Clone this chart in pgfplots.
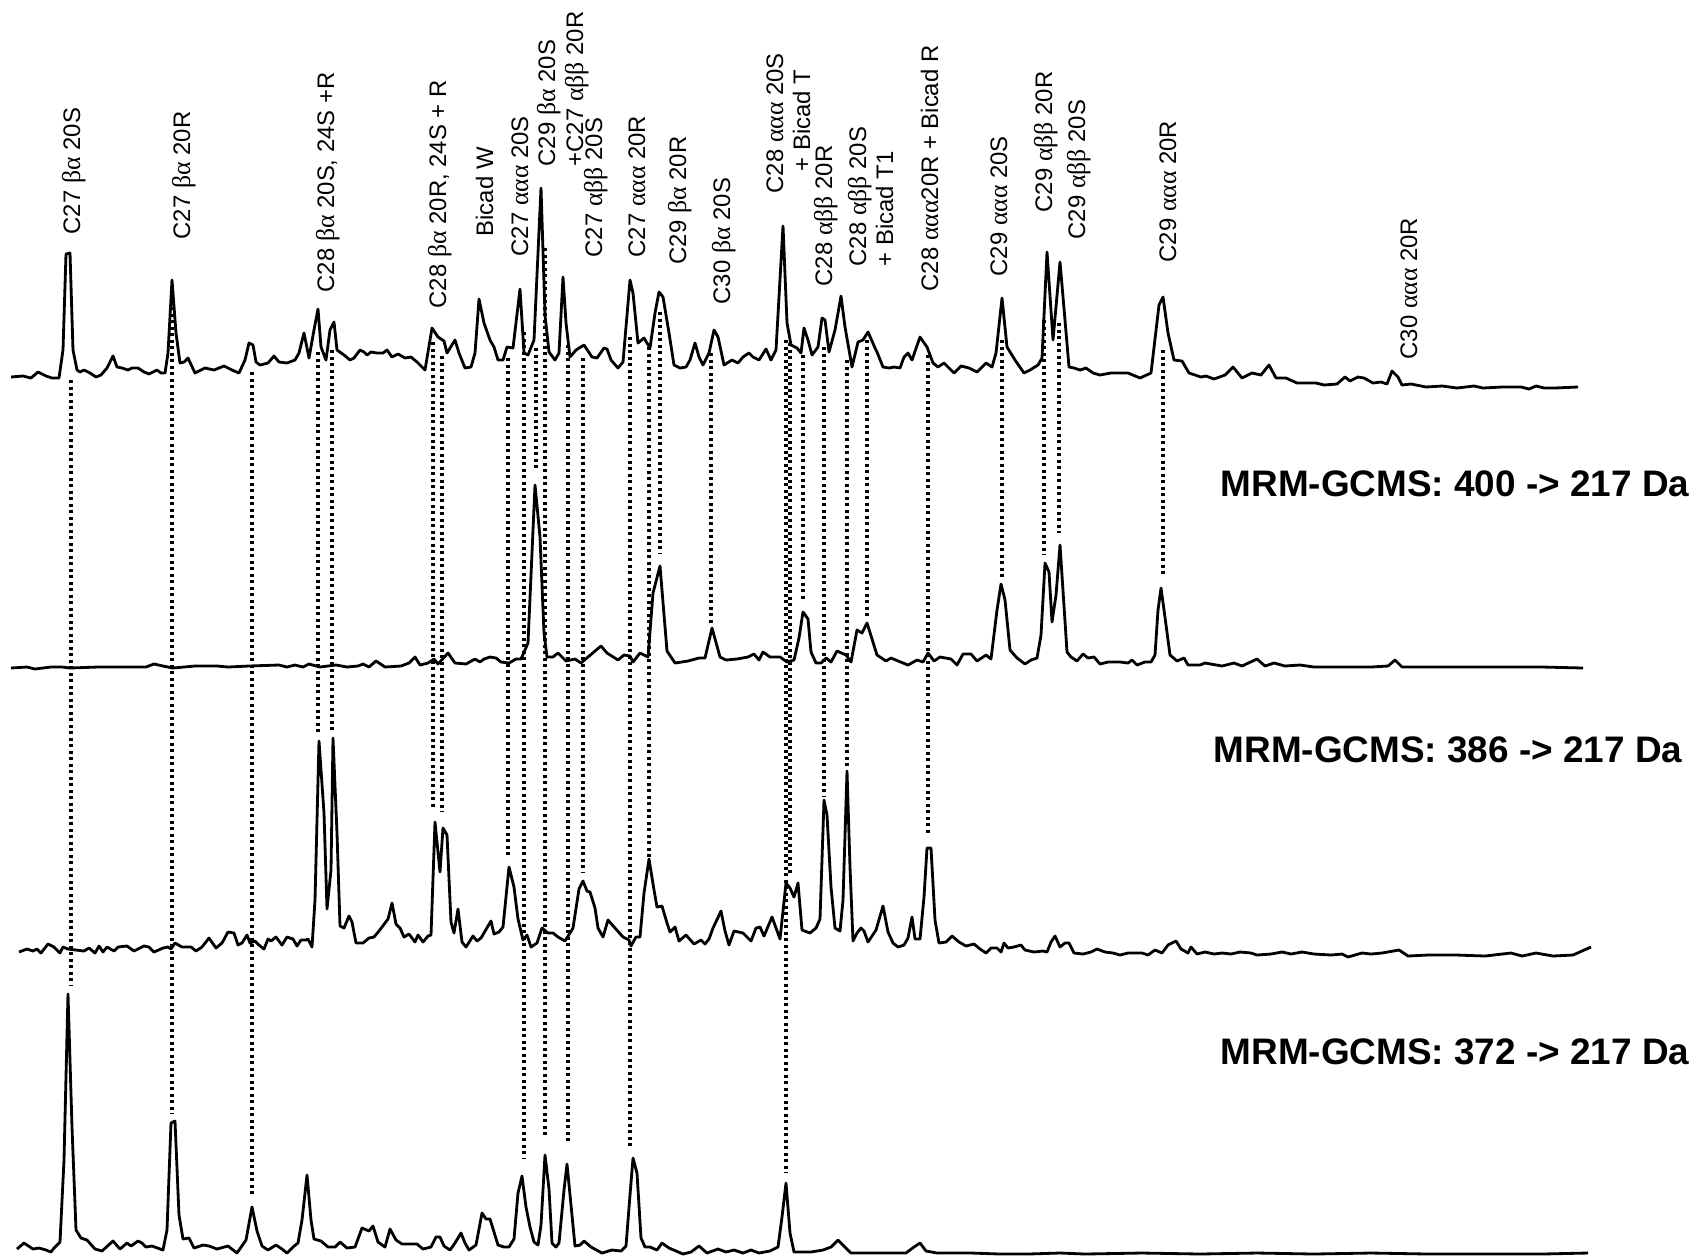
\documentclass[border=0pt]{standalone}
\usepackage{fontspec}
\setmainfont{Liberation Sans}
\newfontfamily\grk[Scale=1.08]{Liberation Serif}
\usepackage{pgfplots}
\pgfplotsset{compat=1.18}

\tikzset{
  trace/.style={black, line width=0.8pt, line join=round, mark=none},
  guide/.style={black, line width=0.9pt, dash pattern=on 0.85pt off 1.0pt, mark=none},
  lbl/.style={rotate=90, anchor=base west, inner sep=0pt, font=\fontsize{6.8}{7}\selectfont},
  mrm/.style={anchor=east, inner sep=0pt, font=\fontsize{10.5}{12}\selectfont\bfseries},
}

\begin{document}
\begin{tikzpicture}
\begin{axis}[
  at={(0,0)}, anchor=south west,
  width=16.95cm, height=12.55cm, scale only axis,
  xmin=0, xmax=1695, ymin=0, ymax=1255, y dir=reverse,
  hide axis, clip=false,
]
% peak correlation guides
\addplot[guide] coordinates {(71,380) (71,985)};
\addplot[guide] coordinates {(172,307) (172,1114)};
\addplot[guide] coordinates {(252,372) (252,1195)};
\addplot[guide] coordinates {(318,352) (318,733)};
\addplot[guide] coordinates {(332,350) (332,732)};
\addplot[guide] coordinates {(433,342) (433,810)};
\addplot[guide] coordinates {(442,356) (442,812)};
\addplot[guide] coordinates {(508,358) (508,856)};
\addplot[guide] coordinates {(524,332) (524,1158)};
\addplot[guide] coordinates {(536,348) (536,468)};
\addplot[guide] coordinates {(545,248) (545,1135)};
\addplot[guide] coordinates {(568,345) (568,1143)};
\addplot[guide] coordinates {(583,358) (583,872)};
\addplot[guide] coordinates {(630,337) (630,1147)};
\addplot[guide] coordinates {(649,347) (649,858)};
\addplot[guide] coordinates {(660,312) (660,553)};
\addplot[guide] coordinates {(711,353) (711,625)};
\addplot[guide] coordinates {(786,340) (786,1173)};
\addplot[guide] coordinates {(790,343) (790,875)};
\addplot[guide] coordinates {(803,355) (803,600)};
\addplot[guide] coordinates {(824,347) (824,797)};
\addplot[guide] coordinates {(847,360) (847,768)};
\addplot[guide] coordinates {(867,340) (867,618)};
\addplot[guide] coordinates {(928,355) (928,835)};
\addplot[guide] coordinates {(1002,340) (1002,578)};
\addplot[guide] coordinates {(1044,320) (1044,555)};
\addplot[guide] coordinates {(1059,323) (1059,533)};
\addplot[guide] coordinates {(1163,350) (1163,577)};

% summed trace
\addplot[trace] coordinates {
(11,377) (23,376) (31,378) (38,372) (46,376) (52,378) (59,378) (63,350) (66,254) (70,253)
(73,350) (77,370) (80,372) (84,370) (90,373) (96,377) (101,375) (107,368) (113,356) (117,367)
(122,368) (128,370) (132,368) (138,368) (144,372) (149,374) (157,370) (161,373) (165,373) (168,353)
(172,280) (176,333) (180,363) (184,362) (188,358) (195,373) (205,368) (214,370) (224,366) (232,370)
(239,373) (245,360) (249,343) (253,345) (256,362) (260,365) (268,363) (274,356) (279,362) (287,363)
(295,360) (299,353) (304,333) (309,358) (314,330) (318,309) (321,347) (326,360) (330,330) (334,322)
(337,350) (344,355) (350,360) (354,358) (360,350) (364,352) (367,355) (371,352) (377,353) (383,353)
(387,350) (392,357) (398,354) (405,358) (411,357) (417,362) (425,370) (432,328) (438,337) (444,341)
(447,353) (455,340) (459,353) (465,368) (471,367) (475,353) (479,299) (484,323) (490,340) (494,347)
(498,360) (503,360) (507,347) (513,348) (520,289) (524,353) (528,355) (534,340) (541,188) (545,315)
(549,352) (555,360) (559,353) (563,277) (566,323) (570,357) (576,350) (584,345) (592,357) (597,358)
(604,348) (607,349) (611,360) (618,368) (623,362) (630,280) (633,293) (638,343) (644,338) (650,348)
(655,313) (659,292) (663,297) (669,333) (674,365) (680,368) (686,367) (690,360) (695,343) (699,357)
(703,365) (709,353) (714,330) (718,337) (724,365) (732,360) (738,363) (743,357) (749,353) (753,357)
(759,360) (766,349) (771,360) (776,350) (783,226) (787,323) (791,345) (797,348) (801,353) (804,328)
(808,340) (812,355) (818,347) (822,318) (825,320) (829,352) (835,330) (841,296) (845,327) (852,367)
(858,342) (863,340) (868,332) (875,348) (877,352) (883,367) (889,368) (894,367) (900,368) (904,357)
(908,353) (912,360) (920,337) (927,347) (933,363) (938,367) (944,363) (954,373) (961,366) (969,368)
(977,372) (986,363) (992,367) (996,353) (1002,298) (1007,347) (1015,360) (1024,373) (1030,370) (1038,365)
(1042,358) (1047,252) (1053,340) (1060,262) (1069,367) (1074,368) (1080,370) (1086,368) (1093,373) (1100,375)
(1111,373) (1128,373) (1140,378) (1151,373) (1159,305) (1163,297) (1168,333) (1174,360) (1182,361) (1189,373)
(1201,377) (1206,376) (1214,379) (1225,375) (1233,367) (1242,378) (1252,373) (1261,375) (1269,365) (1276,378)
(1286,378) (1297,383) (1316,383) (1324,385) (1337,384) (1345,377) (1350,381) (1358,377) (1364,378) (1373,383)
(1381,382) (1387,384) (1392,371) (1398,377) (1402,385) (1411,384) (1426,387) (1442,386) (1457,388) (1474,386)
(1483,388) (1502,387) (1510,387) (1521,387) (1529,389) (1536,386) (1544,388) (1555,388) (1578,387)
};

% MRM 400 -> 217
\addplot[trace] coordinates {
(11,668) (27,667) (35,669) (51,667) (62,667) (70,668) (98,667) (125,667) (146,667) (154,664)
(163,666) (173,668) (195,666) (217,666) (228,667) (249,666) (279,665) (287,667) (295,665) (303,667)
(309,664) (320,667) (336,665) (347,667) (358,666) (363,664) (369,667) (376,661) (385,667) (401,666)
(409,663) (415,657) (420,665) (428,663) (434,659) (438,664) (448,653) (455,663) (466,664) (475,659)
(480,662) (484,659) (490,657) (496,658) (501,662) (509,663) (516,659) (521,659) (528,643) (535,485)
(540,537) (544,633) (547,657) (553,657) (558,653) (566,661) (575,659) (581,663) (588,657) (601,646)
(607,653) (618,660) (624,655) (630,656) (633,662) (640,653) (648,657) (653,593) (660,566) (667,651)
(675,663) (688,661) (699,658) (705,658) (712,628) (720,657) (726,660) (737,659) (748,657) (754,654)
(759,660) (763,652) (770,657) (780,657) (787,662) (794,660) (799,638) (803,612) (808,619) (811,652)
(816,663) (821,663) (826,658) (831,662) (837,651) (846,655) (851,662) (857,630) (862,633) (867,623)
(877,655) (886,661) (891,658) (903,663) (908,665) (917,660) (923,662) (928,653) (934,661) (940,657)
(951,659) (957,665) (963,654) (971,654) (977,661) (986,655) (991,659) (997,610) (1001,584) (1005,600)
(1010,650) (1017,658) (1025,664) (1031,660) (1037,658) (1041,635) (1045,563) (1049,572) (1052,622) (1056,595)
(1060,545) (1067,652) (1071,657) (1077,661) (1083,654) (1088,658) (1094,657) (1100,664) (1108,662) (1120,662)
(1128,663) (1132,660) (1137,665) (1145,662) (1151,662) (1155,655) (1158,610) (1161,588) (1164,610) (1170,655)
(1177,661) (1184,658) (1188,665) (1200,665) (1205,663) (1222,666) (1234,663) (1242,666) (1257,659) (1265,666)
(1274,663) (1285,666) (1300,665) (1314,667) (1342,667) (1371,667) (1388,666) (1395,660) (1402,667) (1428,667)
(1456,667) (1485,667) (1514,667) (1542,667) (1583,668)
};

% MRM 386 -> 217
\addplot[trace] coordinates {
(19,952) (27,949) (33,951) (37,949) (41,953) (48,944) (54,947) (60,953) (63,947) (68,949)
(76,950) (84,951) (89,948) (95,953) (99,946) (103,952) (107,947) (114,951) (118,947) (127,946)
(134,951) (144,946) (149,947) (154,952) (163,948) (168,947) (171,949) (175,943) (182,947) (191,947)
(196,951) (202,947) (209,938) (216,948) (222,943) (228,932) (234,933) (238,945) (242,943) (247,935)
(250,943) (255,941) (259,945) (264,949) (268,939) (271,941) (276,937) (282,945) (287,937) (293,939)
(297,946) (301,940) (306,940) (308,939) (312,947) (315,900) (319,741) (324,813) (327,909) (331,870)
(333,738) (337,833) (340,926) (344,928) (349,916) (352,922) (356,943) (363,943) (369,938) (374,937)
(379,931) (388,919) (392,903) (396,924) (400,928) (404,937) (409,934) (415,942) (418,935) (423,942)
(428,936) (431,935) (435,822) (440,872) (443,828) (447,835) (451,922) (454,933) (458,909) (462,942)
(466,947) (473,936) (477,941) (481,938) (491,921) (494,934) (499,932) (503,927) (509,867) (514,887)
(518,919) (523,940) (527,935) (531,947) (537,943) (542,928) (548,933) (553,933) (558,937) (565,941)
(573,928) (579,889) (583,881) (587,891) (590,892) (595,908) (598,928) (603,937) (608,920) (615,928)
(623,937) (629,940) (631,946) (636,937) (640,937) (644,893) (649,859) (654,890) (657,907) (662,906)
(667,923) (670,932) (675,927) (679,941) (686,935) (694,944) (701,940) (705,944) (709,939) (713,928)
(721,911) (725,931) (729,945) (734,931) (743,933) (751,941) (756,928) (760,927) (764,936) (772,917)
(780,939) (786,883) (790,888) (794,897) (798,883) (802,930) (810,933) (816,928) (820,919) (824,800)
(827,815) (831,887) (835,928) (840,931) (843,900) (847,771) (850,867) (853,941) (857,933) (861,928)
(864,931) (868,942) (876,930) (883,906) (888,932) (893,943) (898,947) (904,945) (908,938) (912,917)
(915,939) (920,939) (924,897) (927,848) (931,848) (935,920) (939,943) (946,942) (952,936) (959,942)
(966,946) (974,944) (980,949) (986,953) (991,948) (997,948) (1001,952) (1004,943) (1008,948) (1014,947)
(1021,945) (1025,950) (1034,952) (1043,951) (1047,952) (1051,942) (1055,936) (1060,947) (1065,943) (1069,943)
(1074,953) (1083,954) (1091,952) (1097,949) (1105,952) (1113,953) (1120,955) (1128,953) (1137,953) (1142,953)
(1148,955) (1155,950) (1162,953) (1168,945) (1176,941) (1181,949) (1188,953) (1191,947) (1197,954) (1205,952)
(1214,954) (1222,953) (1231,954) (1240,952) (1251,953) (1257,955) (1271,954) (1282,952) (1291,954) (1302,952)
(1314,954) (1331,955) (1342,954) (1348,957) (1362,953) (1371,954) (1382,953) (1399,950) (1408,956) (1428,955)
(1456,955) (1485,956) (1511,953) (1522,956) (1536,953) (1553,956) (1573,955) (1582,951) (1591,947)
};

% MRM 372 -> 217
\addplot[trace] coordinates {
(17,1249) (24,1243) (33,1249) (39,1248) (46,1250) (51,1252) (54,1248) (60,1242) (64,1160) (68,994)
(72,1127) (76,1230) (81,1238) (87,1240) (95,1249) (102,1251) (113,1241) (120,1249) (127,1243) (131,1246)
(138,1241) (142,1243) (146,1247) (152,1246) (163,1250) (167,1230) (171,1123) (175,1121) (179,1215) (183,1239)
(189,1238) (194,1248) (203,1245) (209,1246) (217,1249) (228,1246) (237,1253) (246,1240) (252,1207) (257,1231)
(262,1246) (268,1250) (276,1245) (282,1249) (287,1253) (293,1247) (298,1243) (302,1220) (307,1175) (311,1220)
(314,1239) (321,1241) (328,1247) (335,1247) (340,1242) (347,1248) (355,1247) (362,1228) (369,1231) (373,1226)
(378,1242) (385,1247) (390,1229) (396,1240) (402,1244) (409,1244) (417,1244) (423,1249) (431,1247) (436,1237)
(440,1237) (444,1246) (450,1250) (455,1243) (461,1233) (465,1243) (469,1250) (476,1245) (482,1213) (486,1219)
(490,1219) (498,1245) (504,1247) (509,1247) (514,1239) (518,1193) (522,1176) (526,1207) (530,1227) (534,1242)
(538,1245) (541,1225) (545,1155) (549,1189) (552,1243) (556,1247) (559,1243) (564,1190) (567,1164) (571,1205)
(575,1246) (580,1245) (584,1241) (591,1247) (602,1253) (612,1250) (621,1251) (626,1246) (630,1195) (633,1158)
(637,1173) (641,1238) (645,1247) (650,1247) (657,1250) (662,1243) (669,1248) (683,1254) (691,1252) (699,1246)
(707,1253) (718,1249) (726,1252) (734,1250) (743,1253) (751,1250) (759,1253) (770,1251) (778,1247) (782,1217)
(786,1183) (790,1233) (794,1252) (802,1252) (811,1252) (823,1250) (831,1247) (838,1240) (845,1247) (851,1253)
(868,1253) (886,1253) (906,1253) (914,1247) (920,1243) (926,1251) (937,1253) (971,1253) (1000,1254) (1028,1254)
(1060,1253) (1085,1254) (1142,1253) (1200,1254) (1257,1253) (1314,1254) (1371,1253) (1428,1254) (1485,1254) (1542,1254)
(1588,1253)
};

% compound labels
\node[lbl] at (axis cs:80,235) {C27 {\grk βα} 20S};
\node[lbl] at (axis cs:190,240) {C27 {\grk βα} 20R};
\node[lbl] at (axis cs:334,293) {C28 {\grk βα} 20S, 24S +R};
\node[lbl] at (axis cs:446,309) {C28 {\grk βα} 20R, 24S + R};
\node[lbl] at (axis cs:493,237) {Bicad W};
\node[lbl] at (axis cs:528,257) {C27 {\grk ααα} 20S};
\node[lbl] at (axis cs:555,167) {C29 {\grk βα} 20S};
\node[lbl] at (axis cs:583,167) {+C27 {\grk αββ} 20R};
\node[lbl] at (axis cs:602,258) {C27 {\grk αββ} 20S};
\node[lbl] at (axis cs:645,258) {C27 {\grk ααα} 20R};
\node[lbl] at (axis cs:686,265) {C29 {\grk βα} 20R};
\node[lbl] at (axis cs:730,305) {C30 {\grk βα} 20S};
\node[lbl] at (axis cs:783,194) {C28 {\grk ααα} 20S};
\node[lbl] at (axis cs:810,172) {+ Bicad T};
\node[lbl] at (axis cs:832,287) {C28 {\grk αββ} 20R};
\node[lbl] at (axis cs:866,267) {C28 {\grk αββ} 20S};
\node[lbl] at (axis cs:893,267) {+ Bicad T1};
\node[lbl] at (axis cs:938,292) {C28 {\grk ααα}20R + Bicad R};
\node[lbl] at (axis cs:1007,277) {C29 {\grk ααα} 20S};
\node[lbl] at (axis cs:1052,213) {C29 {\grk αββ} 20R};
\node[lbl] at (axis cs:1085,240) {C29 {\grk αββ} 20S};
\node[lbl] at (axis cs:1176,263) {C29 {\grk ααα} 20R};
\node[lbl] at (axis cs:1417,360) {C30 {\grk ααα} 20R};

% transition labels
\node[mrm] at (axis cs:1690,484) {MRM-GCMS: 400 -> 217 Da};
\node[mrm] at (axis cs:1683,750) {MRM-GCMS: 386 -> 217 Da};
\node[mrm] at (axis cs:1690,1052) {MRM-GCMS: 372 -> 217 Da};
\end{axis}
\pgfresetboundingbox
\useasboundingbox (0,0) rectangle (16.95cm,12.55cm);
\end{tikzpicture}
\end{document}
